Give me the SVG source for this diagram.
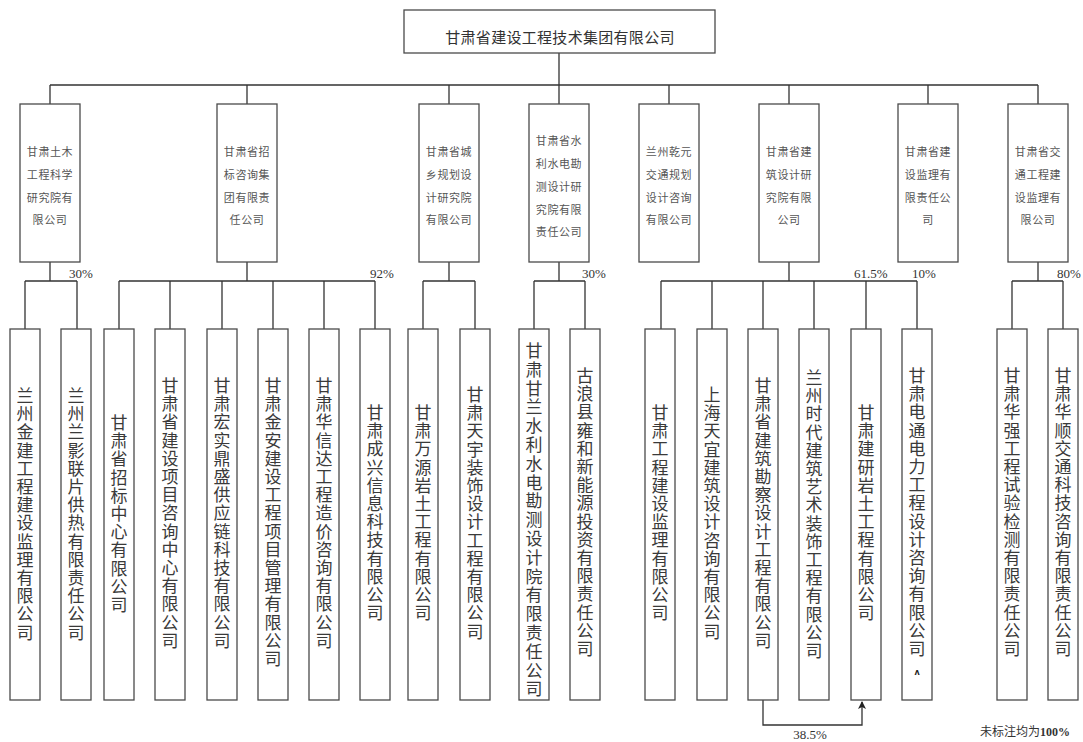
<svg xmlns="http://www.w3.org/2000/svg" width="1083" height="742" viewBox="0 0 1083 742">
<style>
.box{fill:#fff;stroke:#4a4a4a;stroke-width:1.3}
.ln{fill:none;stroke:#333;stroke-width:1.3}
.top{font-family:"Noto Sans CJK SC",sans-serif;font-size:15px;letter-spacing:0.3px;fill:#333;text-anchor:middle;dominant-baseline:central}
.mid{font-family:"Noto Sans CJK SC",sans-serif;font-size:11px;letter-spacing:0.6px;fill:#555;text-anchor:middle;dominant-baseline:central}
.bot{font-family:"Noto Sans CJK SC",sans-serif;font-size:17px;letter-spacing:1.2px;fill:#3a3a3a;writing-mode:vertical-rl;text-anchor:start}
.pct{font-family:"Liberation Serif",serif;font-size:13px;fill:#333}
</style>
<defs>
<marker id="ah" markerWidth="8" markerHeight="10" refX="7" refY="4" orient="auto" markerUnits="userSpaceOnUse">
<path d="M0,0 L8,4 L0,8 L2,4 Z" fill="#222"/>
</marker>
</defs>
<g id="connectors">
<path class="ln" d="M559,53V85M50,85H1038M50,85V104M247,85V104M449,85V104M559,85V104M669,85V104M789,85V104M928,85V104M1038,85V104"/>
<path class="ln" d="M50,262V281M25,281H77M25,281V329M77,281V329"/>
<path class="ln" d="M247,262V281M119,281H375M119,281V329M170,281V329M222,281V329M273,281V329M324,281V329M375,281V329"/>
<path class="ln" d="M449,262V281M423,281H475M423,281V329M475,281V329"/>
<path class="ln" d="M559,262V281M534,281H585M534,281V329M585,281V329"/>
<path class="ln" d="M789,262V281M661,281H917M661,281V329M712,281V329M763,281V329M814,281V329M866,281V329M917,281V329"/>
<path class="ln" d="M1038,262V281M1012,281H1063M1012,281V329M1063,281V329"/>
<path class="ln" d="M763,700V725H862V702" marker-end="url(#ah)"/>
</g>
<g id="n0"><rect class="box" x="404" y="10" width="311" height="43"/><text class="top" x="560" y="36">甘肃省建设工程技术集团有限公司</text></g>
<g id="m1"><rect class="box" x="20" y="104" width="60" height="158"/><text class="mid"><tspan x="50" y="151">甘肃土木</tspan><tspan x="50" y="174">工程科学</tspan><tspan x="50" y="197">研究院有</tspan><tspan x="50" y="219">限公司</tspan></text></g>
<g id="m2"><rect class="box" x="217" y="104" width="60" height="158"/><text class="mid"><tspan x="247" y="151">甘肃省招</tspan><tspan x="247" y="174">标咨询集</tspan><tspan x="247" y="197">团有限责</tspan><tspan x="247" y="219">任公司</tspan></text></g>
<g id="m3"><rect class="box" x="419" y="104" width="60" height="158"/><text class="mid"><tspan x="449" y="151">甘肃省城</tspan><tspan x="449" y="174">乡规划设</tspan><tspan x="449" y="197">计研究院</tspan><tspan x="449" y="219">有限公司</tspan></text></g>
<g id="m4"><rect class="box" x="529" y="104" width="60" height="158"/><text class="mid"><tspan x="559" y="140">甘肃省水</tspan><tspan x="559" y="163">利水电勘</tspan><tspan x="559" y="186">测设计研</tspan><tspan x="559" y="209">究院有限</tspan><tspan x="559" y="231">责任公司</tspan></text></g>
<g id="m5"><rect class="box" x="639" y="104" width="60" height="158"/><text class="mid"><tspan x="669" y="151">兰州乾元</tspan><tspan x="669" y="174">交通规划</tspan><tspan x="669" y="197">设计咨询</tspan><tspan x="669" y="219">有限公司</tspan></text></g>
<g id="m6"><rect class="box" x="759" y="104" width="60" height="158"/><text class="mid"><tspan x="789" y="151">甘肃省建</tspan><tspan x="789" y="174">筑设计研</tspan><tspan x="789" y="197">究院有限</tspan><tspan x="789" y="219">公司</tspan></text></g>
<g id="m7"><rect class="box" x="898" y="104" width="60" height="158"/><text class="mid"><tspan x="928" y="151">甘肃省建</tspan><tspan x="928" y="174">设监理有</tspan><tspan x="928" y="197">限责任公</tspan><tspan x="928" y="219">司</tspan></text></g>
<g id="m8"><rect class="box" x="1008" y="104" width="60" height="158"/><text class="mid"><tspan x="1038" y="151">甘肃省交</tspan><tspan x="1038" y="174">通工程建</tspan><tspan x="1038" y="197">设监理有</tspan><tspan x="1038" y="219">限公司</tspan></text></g>
<g id="b1"><rect class="box" x="10" y="329" width="30" height="371"/><text class="bot" x="25" y="387">兰州金建工程建设监理有限公司</text></g>
<g id="b2"><rect class="box" x="61" y="329" width="30" height="371"/><text class="bot" x="76" y="387">兰州兰影联片供热有限责任公司</text></g>
<g id="b3"><rect class="box" x="104" y="329" width="30" height="371"/><text class="bot" x="119" y="414">甘肃省招标中心有限公司</text></g>
<g id="b4"><rect class="box" x="155" y="329" width="30" height="371"/><text class="bot" x="170" y="377">甘肃省建设项目咨询中心有限公司</text></g>
<g id="b5"><rect class="box" x="207" y="329" width="30" height="371"/><text class="bot" x="222" y="377">甘肃宏实鼎盛供应链科技有限公司</text></g>
<g id="b6"><rect class="box" x="258" y="329" width="30" height="371"/><text class="bot" x="273" y="377">甘肃金安建设工程项目管理有限公司</text></g>
<g id="b7"><rect class="box" x="309" y="329" width="30" height="371"/><text class="bot" x="324" y="377">甘肃华信达工程造价咨询有限公司</text></g>
<g id="b8"><rect class="box" x="360" y="329" width="30" height="371"/><text class="bot" x="375" y="404">甘肃成兴信息科技有限公司</text></g>
<g id="b9"><rect class="box" x="408" y="329" width="30" height="371"/><text class="bot" x="423" y="404">甘肃万源岩土工程有限公司</text></g>
<g id="b10"><rect class="box" x="460" y="329" width="30" height="371"/><text class="bot" x="475" y="386">甘肃天宇装饰设计工程有限公司</text></g>
<g id="b11"><rect class="box" x="519" y="329" width="30" height="371"/><text class="bot" x="534" y="342" style="letter-spacing:1.8px">甘肃甘兰水利水电勘测设计院有限责任公司</text></g>
<g id="b12"><rect class="box" x="570" y="329" width="30" height="371"/><text class="bot" x="585" y="367">古浪县雍和新能源投资有限责任公司</text></g>
<g id="b13"><rect class="box" x="645" y="329" width="30" height="371"/><text class="bot" x="660" y="404">甘肃工程建设监理有限公司</text></g>
<g id="b14"><rect class="box" x="697" y="329" width="30" height="371"/><text class="bot" x="712" y="386">上海天宜建筑设计咨询有限公司</text></g>
<g id="b15"><rect class="box" x="748" y="329" width="30" height="371"/><text class="bot" x="763" y="377">甘肃省建筑勘察设计工程有限公司</text></g>
<g id="b16"><rect class="box" x="799" y="329" width="30" height="371"/><text class="bot" x="814" y="369">兰州时代建筑艺术装饰工程有限公司</text></g>
<g id="b17"><rect class="box" x="851" y="329" width="30" height="371"/><text class="bot" x="866" y="404">甘肃建研岩土工程有限公司</text></g>
<g id="b18"><rect class="box" x="902" y="329" width="30" height="371"/><text class="bot" x="917" y="367">甘肃电通电力工程设计咨询有限公司</text><text x="917" y="675" style="font-family:'DejaVu Sans',sans-serif;font-size:8px;font-weight:bold;fill:#222;text-anchor:middle">ʌ</text></g>
<g id="b19"><rect class="box" x="997" y="329" width="30" height="371"/><text class="bot" x="1012" y="367">甘肃华强工程试验检测有限责任公司</text></g>
<g id="b20"><rect class="box" x="1048" y="329" width="30" height="371"/><text class="bot" x="1063" y="367">甘肃华顺交通科技咨询有限责任公司</text></g>
<g id="labels">
<text class="pct" x="69" y="278">30%</text>
<text class="pct" x="370" y="278">92%</text>
<text class="pct" x="582" y="278">30%</text>
<text class="pct" x="854" y="278">61.5%</text>
<text class="pct" x="912" y="278">10%</text>
<text class="pct" x="1057" y="278">80%</text>
<text class="pct" x="810" y="739" text-anchor="middle">38.5%</text>
<text x="980" y="736" style="font-family:'Noto Sans CJK SC',sans-serif;font-size:12px;fill:#333">未标注均为<tspan style="font-family:'Liberation Serif',serif;font-weight:bold">100%</tspan></text>
</g>
</svg>
